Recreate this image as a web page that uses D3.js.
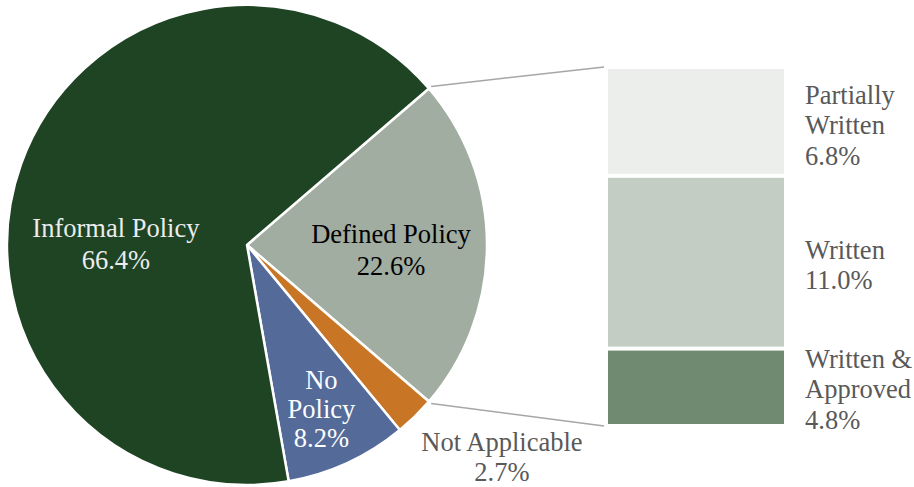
<!DOCTYPE html>
<html>
<head>
<meta charset="utf-8">
<script src="https://cdn.jsdelivr.net/npm/d3@7"></script>
<style>
  body { margin: 0; background: #fff; }
</style>
</head>
<body>
<div id="chart"></div>
<script>
const width = 914;
const height = 487;
const font = "Liberation Serif";

// main pie
const pieNames = ["Defined Policy", "Not Applicable", "No Policy", "Informal Policy"];
const pieValues = [22.6, 2.7, 8.2, 66.4];
const pieColors = ["#a1ada0", "#c87526", "#546b9a", "#1f4424"];

// breakdown of "Defined Policy"
const barNames = ["Partially Written", "Written", "Written & Approved"];
const barValues = [6.8, 11.0, 4.8];
const barColors = ["#eceeeb", "#c3cdc3", "#6f8a70"];

const cx = 247, cy = 245, r = 240;

const svg = d3.select("#chart")
    .append("svg")
    .attr("width", width)
    .attr("height", height)
    .style("display", "block");

const total = d3.sum(pieValues);
const startAngle = Math.PI / 2 - (pieValues[0] / total) * Math.PI;

const pie = d3.pie()
    .sort(null)
    .startAngle(startAngle)
    .endAngle(startAngle + 2 * Math.PI)
    .value(d => d);

const arcs = pie(pieValues);

const arc = d3.arc().innerRadius(0).outerRadius(r);

const g = svg.append("g").attr("transform", `translate(${cx},${cy})`);

g.selectAll("path")
    .data(arcs)
    .enter()
    .append("path")
    .attr("d", arc)
    .attr("fill", (d, i) => pieColors[i])
    .attr("stroke", "#fff")
    .attr("stroke-width", 2.5)
    .attr("stroke-linejoin", "round");

// bar of pie
const barX = 608, barW = 176;
const y = d3.scaleLinear().domain([0, d3.sum(barValues)]).range([69, 424]);
const stacked = barValues.map((v, i) => ({
    name: barNames[i],
    value: v,
    y0: d3.sum(barValues.slice(0, i)),
    y1: d3.sum(barValues.slice(0, i + 1))
}));

svg.selectAll("rect.seg")
    .data(stacked)
    .enter()
    .append("rect")
    .attr("class", "seg")
    .attr("x", barX)
    .attr("y", d => y(d.y0) + (d.y0 > 0 ? 2 : 0))
    .attr("width", barW)
    .attr("height", d => y(d.y1) - y(d.y0) - (d.y0 > 0 ? 2 : 0) - (d.y1 < d3.sum(barValues) ? 2 : 0))
    .attr("fill", (d, i) => barColors[i]);

// connector lines from the Defined slice to the bar
const def = arcs[0];
const pt = a => [cx + (r + 3) * Math.sin(a), cy - (r + 3) * Math.cos(a)];
const [sx, sy] = pt(def.startAngle);
const [ex, ey] = pt(def.endAngle);
svg.append("line")
    .attr("x1", sx).attr("y1", sy)
    .attr("x2", barX - 4).attr("y2", y.range()[0] - 2)
    .attr("stroke", "#a6a6a6").attr("stroke-width", 1.5);
svg.append("line")
    .attr("x1", ex).attr("y1", ey)
    .attr("x2", barX - 4).attr("y2", y.range()[1] + 2)
    .attr("stroke", "#a6a6a6").attr("stroke-width", 1.5);

// pie labels
const fs = 26.5;
const pieLabels = [
    { lines: ["Defined Policy", "22.6%"], rf: 0.6, dx: 0, dy: 5, lh: 32, color: "#000" },
    { lines: ["Not Applicable", "2.7%"], rf: 1.0, dx: 87, dy: 40, lh: 30, color: "#595959" },
    { lines: ["No", "Policy", "8.2%"], rf: 0.74, dx: 0, dy: 2, lh: 29, color: "#fff" },
    { lines: ["Informal Policy", "66.4%"], rf: 0.58, dx: 0, dy: 46, lh: 32, color: "#ececec" }
];

arcs.forEach((d, i) => {
    const L = pieLabels[i];
    const c = d3.arc().innerRadius(r * L.rf).outerRadius(r * L.rf).centroid(d);
    const x0 = cx + c[0] + L.dx;
    const y0 = cy + c[1] + L.dy - (L.lines.length - 1) * L.lh / 2;
    svg.append("text")
        .attr("text-anchor", "middle")
        .attr("font-family", font)
        .attr("font-size", fs)
        .attr("fill", L.color)
        .selectAll("tspan")
        .data(L.lines)
        .enter()
        .append("tspan")
        .attr("x", x0)
        .attr("y", (t, j) => y0 + j * L.lh)
        .attr("dy", "0.35em")
        .text(t => t);
});

// bar labels
const barLabels = [["Partially", "Written", "6.8%"], ["Written", "11.0%"], ["Written &", "Approved", "4.8%"]];
const blh = 30.5;
stacked.forEach((d, i) => {
    const lines = barLabels[i];
    const mid = (y(d.y0) + y(d.y1)) / 2;
    const y0 = mid + 2.5 - (lines.length - 1) * blh / 2;
    svg.append("text")
        .attr("font-family", font)
        .attr("font-size", fs)
        .attr("fill", "#595959")
        .selectAll("tspan")
        .data(lines)
        .enter()
        .append("tspan")
        .attr("x", barX + barW + 21)
        .attr("y", (t, j) => y0 + j * blh)
        .attr("dy", "0.35em")
        .text(t => t);
});
</script>
</body>
</html>
